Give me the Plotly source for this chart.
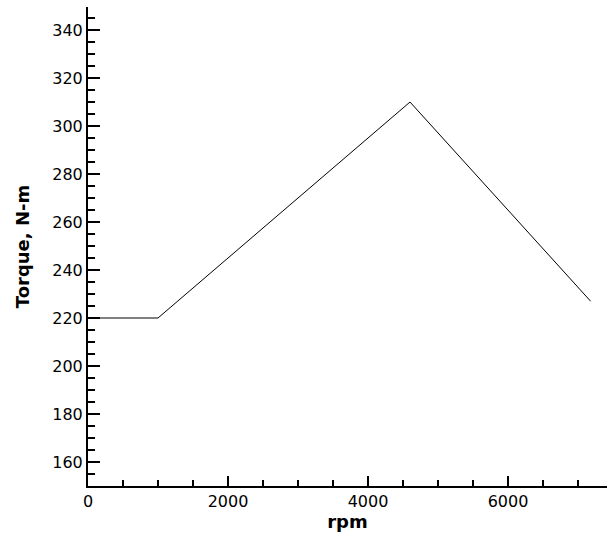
import plotly.graph_objects as go

# Torque curve breakpoints
rpm = [0, 1000, 4600, 7180]
torque_nm = [220, 220, 310, 227]

x_range = [0, 7414]
y_range = [150, 349.6]

fig = go.Figure(
    go.Scatter(
        x=rpm,
        y=torque_nm,
        mode="lines",
        line=dict(color="black", width=1),
        hoverinfo="x+y",
    )
)

axis_common = dict(
    showgrid=False,
    zeroline=False,
    showline=True,
    linecolor="black",
    linewidth=2,
    ticks="inside",
    tickcolor="black",
    tickwidth=2,
    tickfont=dict(family="DejaVu Sans", size=16, color="black"),
)

fig.update_xaxes(
    range=x_range,
    tick0=0,
    dtick=2000,
    ticklen=10,
    minor=dict(dtick=500, ticks="inside", ticklen=6, tickwidth=2, tickcolor="black"),
    title=dict(text="rpm", font=dict(family="DejaVu Sans", size=18, color="black", weight="bold"), standoff=5),
    **axis_common,
)
fig.update_yaxes(
    range=y_range,
    tick0=0,
    dtick=20,
    ticklen=12,
    minor=dict(dtick=5, ticks="inside", ticklen=7, tickwidth=2, tickcolor="black"),
    title=dict(text="Torque, N-m", font=dict(family="DejaVu Sans", size=18, color="black", weight="bold"), standoff=18),
    **axis_common,
)

fig.update_layout(
    width=607,
    height=535,
    margin=dict(l=88, r=0, t=7, b=49),
    paper_bgcolor="white",
    plot_bgcolor="white",
    showlegend=False,
)

fig.write_html("out.html")
